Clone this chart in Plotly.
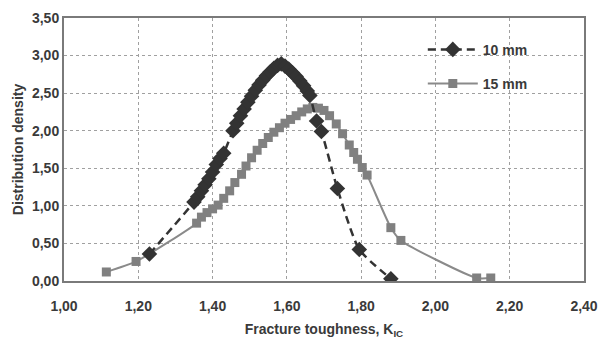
import plotly.graph_objects as go

# 10 mm series
k10 = [1.23, 1.35, 1.36, 1.37, 1.38, 1.39, 1.40, 1.41, 1.42, 1.43,
       1.455, 1.465, 1.475, 1.485, 1.495, 1.505, 1.515, 1.525, 1.535, 1.545,
       1.555, 1.565, 1.575, 1.585, 1.595, 1.605, 1.615, 1.625, 1.635, 1.645,
       1.655, 1.662, 1.68, 1.693, 1.736, 1.795, 1.88]
d10 = [0.36, 1.05, 1.12, 1.20, 1.28, 1.36, 1.45, 1.55, 1.63, 1.70,
       2.00, 2.10, 2.20, 2.29, 2.38, 2.46, 2.54, 2.61, 2.67, 2.73,
       2.78, 2.83, 2.87, 2.89, 2.86, 2.82, 2.77, 2.72, 2.66, 2.60,
       2.53, 2.47, 2.13, 1.99, 1.23, 0.42, 0.03]

# 15 mm series
k15 = [1.114, 1.194, 1.357, 1.37, 1.385, 1.40, 1.415, 1.43, 1.446, 1.46,
       1.478, 1.49, 1.505, 1.52, 1.535, 1.55, 1.565, 1.58, 1.595, 1.61,
       1.625, 1.64, 1.655, 1.67, 1.685, 1.70, 1.715, 1.733, 1.75, 1.768,
       1.78, 1.79, 1.803, 1.816, 1.88, 1.907, 2.111, 2.149]
d15 = [0.12, 0.26, 0.77, 0.85, 0.91, 0.96, 1.01, 1.10, 1.20, 1.31,
       1.42, 1.53, 1.64, 1.74, 1.83, 1.91, 1.98, 2.04, 2.10, 2.15,
       2.20, 2.25, 2.29, 2.31, 2.30, 2.27, 2.20, 2.09, 1.96, 1.81,
       1.71, 1.62, 1.51, 1.41, 0.71, 0.54, 0.04, 0.04]

x_ticks = [1.0, 1.2, 1.4, 1.6, 1.8, 2.0, 2.2, 2.4]
y_ticks = [0.0, 0.5, 1.0, 1.5, 2.0, 2.5, 3.0, 3.5]

font_fam = "Liberation Sans, Arial, sans-serif"
txt = "#3a3a3a"

fig = go.Figure()
fig.add_trace(go.Scatter(
    x=k15, y=d15, name="15 mm", mode="lines+markers",
    line=dict(color="#8a8a8a", width=2, shape="spline", smoothing=0.6),
    marker=dict(symbol="square", size=9, color="#808080"),
    legendrank=2, legendgroup="b"))
fig.add_trace(go.Scatter(
    x=k10, y=d10, name="10 mm", mode="lines+markers",
    line=dict(color="#333333", width=2.5, dash="8px,5px", shape="spline", smoothing=0.6),
    marker=dict(symbol="diamond", size=12, color="#333333"),
    legendrank=1, legendgroup="a"))

axis_common = dict(
    showgrid=True, gridcolor="#a0a0a0", griddash="dot", gridwidth=1,
    showline=True, linecolor="#7a7a7a", linewidth=2, mirror=True,
    zeroline=False, ticks="",
    tickfont=dict(family=font_fam, size=14, color=txt, weight="bold"),
)

fig.update_xaxes(range=[1.0, 2.4], tickvals=x_ticks, tickformat=".2f",
                 ticklabelstandoff=11,
                 title=dict(text="Fracture toughness, K<sub>IC</sub>",
                            font=dict(family=font_fam, size=14, color=txt, weight="bold"),
                            standoff=11),
                 **axis_common)
fig.update_yaxes(range=[0, 3.5], tickvals=y_ticks, tickformat=".2f",
                 title=dict(text="Distribution density",
                            font=dict(family=font_fam, size=14, color=txt, weight="bold"),
                            standoff=5),
                 **axis_common)

fig.update_layout(
    width=608, height=345,
    margin=dict(l=64, r=21, t=10, b=62),
    paper_bgcolor="white", plot_bgcolor="white",
    separators=",.",
    font=dict(family=font_fam, size=14, color=txt, weight="bold"),
    showlegend=True,
    legend=dict(x=0.69, y=0.94, xanchor="left", yanchor="top",
                bgcolor="rgba(0,0,0,0)", itemwidth=50,
                tracegroupgap=13, traceorder="grouped",
                font=dict(family=font_fam, size=14, color=txt, weight="bold")),
)

fig.write_html("out.html")
